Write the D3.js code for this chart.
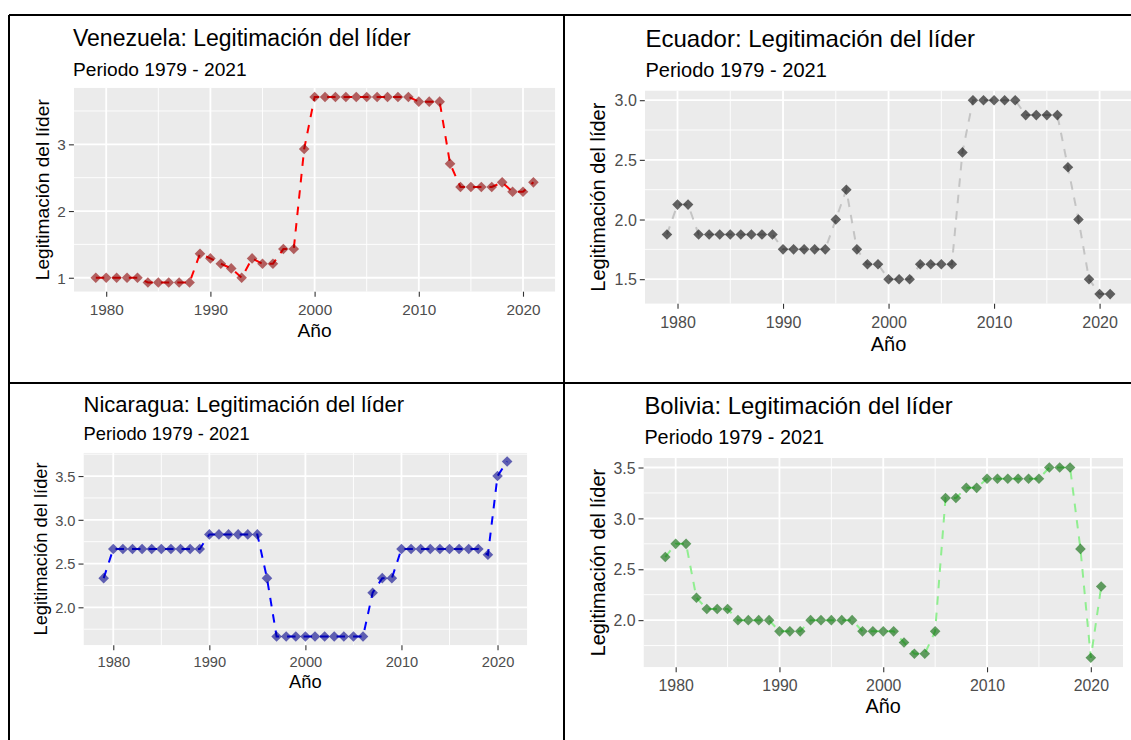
<!DOCTYPE html>
<html><head><meta charset="utf-8">
<script src="https://cdn.jsdelivr.net/npm/d3@7"></script>
<style>
body{margin:0;background:#fff}
svg{display:block}
text{font-family:"Liberation Sans",Arial,Helvetica,sans-serif}
</style>
</head><body>
<svg id="chart" width="1131" height="740"></svg>
<script>
// ---------------- DATA ----------------
const years = [1979,1980,1981,1982,1983,1984,1985,1986,1987,1988,1989,1990,1991,1992,1993,1994,1995,1996,1997,1998,1999,2000,2001,2002,2003,2004,2005,2006,2007,2008,2009,2010,2011,2012,2013,2014,2015,2016,2017,2018,2019,2020,2021];

const venezuela = [1.00,1.00,1.00,1.00,1.00,0.93,0.93,0.93,0.93,0.93,1.36,1.29,1.21,1.14,1.00,1.29,1.21,1.21,1.43,1.43,2.93,3.71,3.71,3.71,3.71,3.71,3.71,3.71,3.71,3.71,3.71,3.64,3.64,3.64,2.71,2.36,2.36,2.36,2.36,2.43,2.29,2.29,2.43];

const ecuador = [1.875,2.125,2.125,1.875,1.875,1.875,1.875,1.875,1.875,1.875,1.875,1.75,1.75,1.75,1.75,1.75,2.0,2.25,1.75,1.625,1.625,1.5,1.5,1.5,1.625,1.625,1.625,1.625,2.5625,3.0,3.0,3.0,3.0,3.0,2.875,2.875,2.875,2.875,2.4375,2.0,1.5,1.375,1.375];

const nicaragua = [2.333,2.667,2.667,2.667,2.667,2.667,2.667,2.667,2.667,2.667,2.667,2.833,2.833,2.833,2.833,2.833,2.833,2.333,1.667,1.667,1.667,1.667,1.667,1.667,1.667,1.667,1.667,1.667,2.167,2.333,2.333,2.667,2.667,2.667,2.667,2.667,2.667,2.667,2.667,2.667,2.6,3.5,3.667];

const bolivia = [2.62,2.75,2.75,2.22,2.11,2.11,2.11,2.0,2.0,2.0,2.0,1.89,1.89,1.89,2.0,2.0,2.0,2.0,2.0,1.89,1.89,1.89,1.89,1.78,1.67,1.67,1.89,3.2,3.2,3.3,3.3,3.39,3.39,3.39,3.39,3.39,3.39,3.5,3.5,3.5,2.7,1.63,2.33];

const xTicks = [1980,1990,2000,2010,2020];
const yTicksVen = [1,2,3];
const yTicksEcu = [1.5,2.0,2.5,3.0];
const yTicksNic = [2.0,2.5,3.0,3.5];
const yTicksBol = [2.0,2.5,3.0,3.5];

const titles = ["Venezuela: Legitimación del líder","Ecuador: Legitimación del líder","Nicaragua: Legitimación del líder","Bolivia: Legitimación del líder"];
const subtitle = "Periodo 1979 - 2021";
const xLabel = "Año";
const yLabel = "Legitimación del líder";

// ---------------- LAYOUT / STYLE ----------------
const panels = [
  {values: venezuela, yTicks: yTicksVen, fmt: d3.format("d"), title: titles[0],
   x0: 73.9, x1: 555.3, y0: 87.7, y1: 291.7, titleX: 73, titleBase: 45.7, subBase: 75.5, fs: 23,
   yTitleX: 48.5, xTitleBase: 336.5, xTickBase: 315,
   line: "#ff0000", point: "#8b0000"},
  {values: ecuador, yTicks: yTicksEcu, fmt: d3.format(".1f"), title: titles[1],
   x0: 644.8, x1: 1132.3, y0: 90.5, y1: 303.8, titleX: 645.5, titleBase: 46.5, subBase: 77, fs: 24,
   yTitleX: 605, xTitleBase: 351, xTickBase: 328,
   line: "#c4c4c4", point: "#000000"},
  {values: nicaragua, yTicks: yTicksNic, fmt: d3.format(".1f"), title: titles[2],
   x0: 83.5, x1: 527.3, y0: 452.7, y1: 645.2, titleX: 83.6, titleBase: 412, subBase: 440, fs: 22,
   yTitleX: 47, xTitleBase: 688, xTickBase: 667.5,
   line: "#0000ff", point: "#00008b"},
  {values: bolivia, yTicks: yTicksBol, fmt: d3.format(".1f"), title: titles[3],
   x0: 643.5, x1: 1123, y0: 458, y1: 667.3, titleX: 644.4, titleBase: 414, subBase: 444, fs: 23.8,
   yTitleX: 605, xTitleBase: 713, xTickBase: 691.5,
   line: "#90ee90", point: "#006400"}
];

const svg = d3.select("#chart");
svg.append("rect").attr("width",1131).attr("height",740).attr("fill","#fff");

function expand(ext){ const r = ext[1]-ext[0]; return [ext[0]-0.05*r, ext[1]+0.05*r]; }

panels.forEach((p, idx) => {
  const g = svg.append("g");
  const data = years.map((y,i)=>({year:y, v:p.values[i]}));
  const x = d3.scaleLinear().domain(expand(d3.extent(years))).range([p.x0, p.x1]);
  const y = d3.scaleLinear().domain(expand(d3.extent(p.values))).range([p.y1, p.y0]);
  const clipId = "clip"+idx;
  g.append("clipPath").attr("id",clipId).append("rect")
    .attr("x",p.x0).attr("y",p.y0).attr("width",p.x1-p.x0).attr("height",p.y1-p.y0);

  const pg = g.append("g").attr("clip-path",`url(#${clipId})`);
  pg.append("rect").attr("x",p.x0).attr("y",p.y0).attr("width",p.x1-p.x0).attr("height",p.y1-p.y0).attr("fill","#ebebeb");

  // minor grid
  const ystep = p.yTicks[1]-p.yTicks[0];
  const yDom = y.domain();
  const yMinor = [p.yTicks[0]-ystep/2, ...p.yTicks.map(t=>t+ystep/2)].filter(t=>t>yDom[0]&&t<yDom[1]);
  const xDom = x.domain();
  const xMinor = [xTicks[0]-5, ...xTicks.map(t=>t+5)].filter(t=>t>xDom[0]&&t<xDom[1]);
  pg.selectAll(".ymin").data(yMinor).join("line")
    .attr("x1",p.x0).attr("x2",p.x1).attr("y1",d=>y(d)).attr("y2",d=>y(d))
    .attr("stroke","#fff").attr("stroke-width",0.9);
  pg.selectAll(".xmin").data(xMinor).join("line")
    .attr("y1",p.y0).attr("y2",p.y1).attr("x1",d=>x(d)).attr("x2",d=>x(d))
    .attr("stroke","#fff").attr("stroke-width",0.9);
  pg.selectAll(".ymaj").data(p.yTicks).join("line")
    .attr("x1",p.x0).attr("x2",p.x1).attr("y1",d=>y(d)).attr("y2",d=>y(d))
    .attr("stroke","#fff").attr("stroke-width",1.8);
  pg.selectAll(".xmaj").data(xTicks).join("line")
    .attr("y1",p.y0).attr("y2",p.y1).attr("x1",d=>x(d)).attr("x2",d=>x(d))
    .attr("stroke","#fff").attr("stroke-width",1.8);

  // line
  const lineGen = d3.line().x(d=>x(d.year)).y(d=>y(d.v));
  pg.append("path").datum(data).attr("d",lineGen)
    .attr("fill","none").attr("stroke",p.line).attr("stroke-width",2)
    .attr("stroke-dasharray","8.5,8");

  // points (diamonds)
  const r = 5.3;
  pg.selectAll(".pt").data(data).join("path")
    .attr("d",`M0,${-r}L${r},0L0,${r}L${-r},0Z`)
    .attr("transform",d=>`translate(${x(d.year)},${y(d.v)})`)
    .attr("fill",p.point).attr("fill-opacity",0.6);

  // axes
  const tickFs = p.fs*0.667;
  const yAxis = d3.axisLeft(y).tickValues(p.yTicks).tickFormat(p.fmt).tickSize(5).tickPadding(3);
  const ya = g.append("g").attr("transform",`translate(${p.x0},0)`).call(yAxis);
  const xAxis = d3.axisBottom(x).tickValues(xTicks).tickFormat(d3.format("d")).tickSize(5).tickPadding(3);
  const xa = g.append("g").attr("transform",`translate(0,${p.y1})`).call(xAxis);
  [ya, xa].forEach(a => {
    a.select(".domain").remove();
    a.selectAll(".tick line").attr("stroke","#333333").attr("stroke-width",1.1);
    a.selectAll(".tick text").attr("fill","#4d4d4d").style("font-size",tickFs+"px")
      .style("font-family",'"Liberation Sans",Arial,sans-serif');
  });
  xa.selectAll(".tick text").attr("dy",null).attr("y",p.xTickBase-p.y1);
  ya.selectAll(".tick text").attr("dy","0.36em");

  // titles
  g.append("text").attr("x",p.titleX).attr("y",p.titleBase).text(p.title)
    .style("font-size",p.fs+"px").attr("fill","#000");
  g.append("text").attr("x",p.titleX).attr("y",p.subBase).text(subtitle)
    .style("font-size",(p.fs/1.2)+"px").attr("fill","#000");
  g.append("text").attr("x",(p.x0+p.x1)/2).attr("y",p.xTitleBase).attr("text-anchor","middle")
    .text(xLabel).style("font-size",(p.fs/1.2)+"px").attr("fill","#000");
  g.append("text").attr("transform",`translate(${p.yTitleX},${(p.y0+p.y1)/2}) rotate(-90)`)
    .attr("text-anchor","middle").text(yLabel).style("font-size",(p.fs/1.2)+"px").attr("fill","#000");
});

// table borders
const borders = [
  [9,15,1131,15],[9,383,1131,383],[9,15,9,740],[564,15,564,740]
];
svg.selectAll(".border").data(borders).join("line")
  .attr("x1",d=>d[0]).attr("y1",d=>d[1]).attr("x2",d=>d[2]).attr("y2",d=>d[3])
  .attr("stroke","#000").attr("stroke-width",2);
</script>
</body></html>
